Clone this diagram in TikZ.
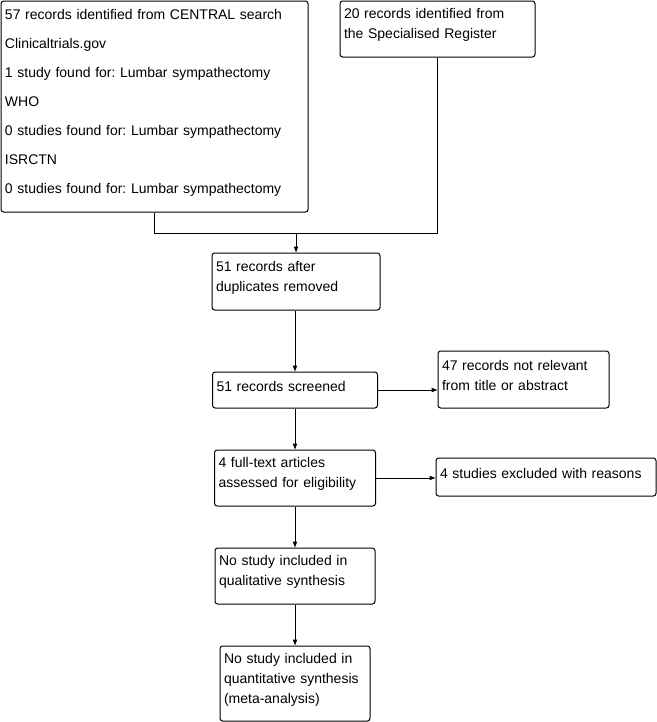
\documentclass[tikz,border=0pt]{standalone}
\usepackage{fontspec}
\setmainfont{Liberation Sans}
\usepackage{tikz}
\usetikzlibrary{arrows.meta,positioning}
\frenchspacing
\newcommand{\boxpad}{\par\vspace{5.5pt}}

\begin{document}
\begin{tikzpicture}[x=0.75pt,y=-0.75pt,font=\fontsize{10.5pt}{15pt}\selectfont,line width=0.75pt]
    \tikzstyle{box}=[draw,rounded corners=2pt,align=left,inner xsep=3pt,inner ysep=0pt,
                     execute at end node=\boxpad]
    \tikzstyle{arr}=[-{Triangle[length=4.5pt,width=3.2pt]}]
    \useasboundingbox (0,0) rectangle (657,722);
    \node[box,minimum width=230.25pt,minimum height=158.25pt,text width=224.25pt,
          font=\fontsize{10.5pt}{21.75pt}\selectfont] (search) at (154.5,106.5)
      {57 records identified from CENTRAL search\\Clinicaltrials.gov\\1 study found for: Lumbar sympathectomy\\WHO\\0 studies found for: Lumbar sympathectomy\\ISRCTN\\0 studies found for: Lumbar sympathectomy};
    \node[box,minimum width=146.25pt,minimum height=42pt,text width=140.25pt] (register) at (437.5,29)
      {20 records identified from\\the Specialised Register};
    \node[box,minimum width=126pt,minimum height=42.75pt,text width=120pt] (dedup) at (296,281.5)
      {51 records after\\duplicates removed};
    \node[box,minimum width=123.75pt,minimum height=27pt,text width=117.75pt] (screen) at (295,390)
      {51 records screened};
    \node[box,minimum width=128.25pt,minimum height=42.75pt,text width=122.25pt] (notrel) at (523.5,379.5)
      {47 records not relevant\\from title or abstract};
    \node[box,minimum width=120.75pt,minimum height=42pt,text width=114.75pt] (fulltext) at (295,478)
      {4 full-text articles\\assessed for eligibility};
    \node[box,minimum width=165pt,minimum height=28.5pt,text width=159pt] (excl) at (546,477)
      {4 studies excluded with reasons};
    \node[box,minimum width=120pt,minimum height=42pt,text width=114pt] (qual) at (295,576)
      {No study included in\\qualitative synthesis};
    \node[box,minimum width=112.5pt,minimum height=56.25pt,text width=106.5pt] (quant) at (295,683.5)
      {No study included in\\quantitative synthesis\\(meta-analysis)};
    \coordinate (join) at (296,233);
    \draw (search.south) |- (join);
    \draw (register.south) |- (join);
    \draw[arr] (join) -- (dedup.north);
    \draw[arr] (dedup.south -| screen.north) -- (screen.north);
    \draw[arr] (screen.east) -- (screen.east -| notrel.west);
    \draw[arr] (screen.south) -- (fulltext.north);
    \draw[arr] (fulltext.east) -- (fulltext.east -| excl.west);
    \draw[arr] (fulltext.south) -- (qual.north);
    \draw[arr] (qual.south) -- (quant.north);
  \end{tikzpicture}
\end{document}
